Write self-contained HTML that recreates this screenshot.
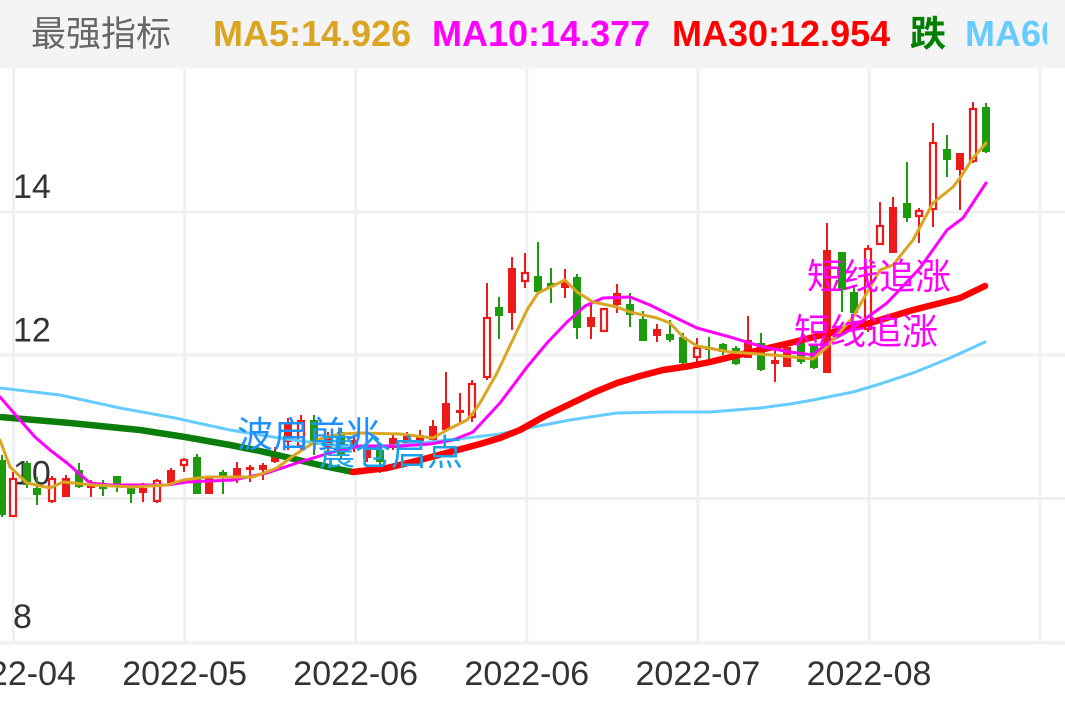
<!DOCTYPE html>
<html>
<head>
<meta charset="utf-8">
<style>
  html,body{margin:0;padding:0;background:#fff;}
  svg{display:block;}
</style>
</head>
<body>
<svg width="1065" height="708" viewBox="0 0 1065 708" xmlns="http://www.w3.org/2000/svg">
  <rect x="0" y="0" width="1065" height="708" fill="#ffffff"/>
  <!-- header -->
  <rect x="0" y="0" width="1065" height="68.5" fill="#f4f4f4"/>

  <!-- grid vertical -->
  <g stroke="#eff0f2" stroke-width="3">
    <line x1="13.5" y1="69" x2="13.5" y2="642"/>
    <line x1="184.6" y1="69" x2="184.6" y2="642"/>
    <line x1="355.7" y1="69" x2="355.7" y2="642"/>
    <line x1="526.8" y1="69" x2="526.8" y2="642"/>
    <line x1="697.9" y1="69" x2="697.9" y2="642"/>
    <line x1="869" y1="69" x2="869" y2="642"/>
    <line x1="1040" y1="69" x2="1040" y2="642"/>
    <line x1="0" y1="212" x2="1065" y2="212"/>
    <line x1="0" y1="355" x2="1065" y2="355"/>
    <line x1="0" y1="498.5" x2="1065" y2="498.5"/>
    <line x1="0" y1="643" x2="1065" y2="643"/>
  </g>

  <!-- y labels -->
  <g font-family="Liberation Sans, sans-serif" font-size="34" fill="#333">
    <text x="13" y="198">14</text>
    <text x="13" y="341.5">12</text>
    <text x="13" y="484.5">10</text>
    <text x="13" y="628">8</text>
  </g>

  <!-- candles -->
  <g id="candles">
    <!-- green wicks & bodies -->
    <g fill="#1e9b0c">
      <rect x="1" y="455" width="2" height="62"/><rect x="-2" y="460" width="8" height="55"/>
      <rect x="26" y="461" width="2" height="27"/><rect x="23" y="463" width="8" height="22"/>
      <rect x="36" y="477" width="2" height="28"/><rect x="33" y="488" width="8" height="7"/>
      <rect x="78" y="463" width="2" height="25"/><rect x="75" y="470" width="8" height="17"/>
      <rect x="102" y="480" width="2" height="16"/><rect x="99" y="486" width="8" height="3"/>
      <rect x="116" y="476" width="2" height="16"/><rect x="113" y="476" width="8" height="8"/>
      <rect x="130" y="485" width="2" height="18"/><rect x="127" y="488" width="8" height="6"/>
      <rect x="196" y="454" width="2" height="40"/><rect x="193" y="457" width="8" height="37"/>
      <rect x="222" y="470" width="2" height="24"/><rect x="219" y="472" width="8" height="5"/>
      <rect x="313" y="415" width="2" height="40"/><rect x="310" y="420" width="8" height="25"/>
      <rect x="340" y="428" width="2" height="32"/><rect x="337" y="432" width="8" height="23"/>
      <rect x="379" y="448" width="2" height="25"/><rect x="376" y="450" width="8" height="12"/>
      <rect x="498" y="297" width="2" height="42"/><rect x="495" y="307" width="8" height="9"/>
      <rect x="537" y="242" width="2" height="51"/><rect x="534" y="276" width="8" height="16"/>
      <rect x="550" y="268" width="2" height="35"/><rect x="547" y="283" width="8" height="4"/>
      <rect x="576" y="274" width="2" height="65"/><rect x="573" y="277" width="8" height="51"/>
      <rect x="629" y="293" width="2" height="34"/><rect x="626" y="304" width="8" height="11"/>
      <rect x="642" y="311" width="2" height="30"/><rect x="639" y="319" width="8" height="22"/>
      <rect x="669" y="320" width="2" height="22"/><rect x="666" y="334" width="8" height="6"/>
      <rect x="682" y="333" width="2" height="31"/><rect x="679" y="337" width="8" height="26"/>
      <rect x="708" y="337" width="2" height="23"/><rect x="705" y="347" width="8" height="3"/>
      <rect x="722" y="343" width="2" height="12"/><rect x="719" y="344" width="8" height="8"/>
      <rect x="735" y="346" width="2" height="19"/><rect x="732" y="348" width="8" height="16"/>
      <rect x="760" y="333" width="2" height="38"/><rect x="757" y="343" width="8" height="27"/>
      <rect x="800" y="340" width="2" height="24"/><rect x="797" y="343" width="8" height="19"/>
      <rect x="813" y="346" width="2" height="23"/><rect x="810" y="346" width="8" height="22"/>
      <rect x="841" y="252" width="2" height="60"/><rect x="838" y="252" width="8" height="38"/>
      <rect x="853" y="285" width="2" height="30"/><rect x="850" y="292" width="8" height="21"/>
      <rect x="906" y="162" width="2" height="60"/><rect x="903" y="203" width="8" height="15"/>
      <rect x="946" y="135" width="2" height="42"/><rect x="943" y="149" width="8" height="11"/>
      <rect x="985" y="103" width="2" height="50"/><rect x="982" y="107" width="8" height="45"/>
    </g>
    <!-- red solid -->
    <g fill="#ee1a1a">
      <rect x="65" y="475" width="2" height="22"/><rect x="62" y="478" width="8" height="19"/>
      <rect x="90" y="480" width="2" height="17"/><rect x="87" y="485" width="8" height="3"/>
      <rect x="142" y="483" width="2" height="19"/><rect x="139" y="488" width="8" height="5"/>
      <rect x="170" y="468" width="2" height="15"/><rect x="167" y="470" width="8" height="13"/>
      <rect x="208" y="476" width="2" height="18"/><rect x="205" y="477" width="8" height="17"/>
      <rect x="236" y="462" width="2" height="21"/><rect x="233" y="468" width="8" height="9"/>
      <rect x="249" y="465" width="2" height="17"/><rect x="246" y="467" width="8" height="3"/>
      <rect x="262" y="463" width="2" height="17"/><rect x="259" y="465" width="8" height="5"/>
      <rect x="274" y="447" width="2" height="16"/><rect x="271" y="453" width="8" height="9"/>
      <rect x="287" y="418" width="2" height="32"/><rect x="284" y="422" width="8" height="20"/>
      <rect x="327" y="432" width="2" height="20"/><rect x="324" y="438" width="8" height="10"/>
      <rect x="353" y="436" width="2" height="16"/><rect x="350" y="440" width="8" height="7"/>
      <rect x="366" y="445" width="2" height="17"/><rect x="363" y="448" width="8" height="10"/>
      <rect x="392" y="435" width="2" height="15"/><rect x="389" y="438" width="8" height="10"/>
      <rect x="406" y="432" width="2" height="15"/><rect x="403" y="435" width="8" height="8"/>
      <rect x="419" y="430" width="2" height="16"/><rect x="416" y="435" width="8" height="7"/>
      <rect x="432" y="420" width="2" height="22"/><rect x="429" y="426" width="8" height="14"/>
      <rect x="445" y="372" width="2" height="60"/><rect x="442" y="403" width="8" height="27"/>
      <rect x="459" y="393" width="2" height="29"/><rect x="456" y="410" width="8" height="3"/>
      <rect x="511" y="257" width="2" height="73"/><rect x="508" y="268" width="8" height="45"/>
      <rect x="564" y="269" width="2" height="29"/><rect x="561" y="282" width="8" height="6"/>
      <rect x="590" y="301" width="2" height="38"/><rect x="587" y="317" width="8" height="10"/>
      <rect x="616" y="284" width="2" height="29"/><rect x="613" y="293" width="8" height="12"/>
      <rect x="656" y="324" width="2" height="18"/><rect x="653" y="329" width="8" height="7"/>
      <rect x="747" y="316" width="2" height="42"/><rect x="744" y="340" width="8" height="18"/>
      <rect x="774" y="348" width="2" height="34"/><rect x="771" y="360" width="8" height="4"/>
      <rect x="786" y="347" width="2" height="20"/><rect x="783" y="347" width="8" height="20"/>
      <rect x="826" y="223" width="2" height="150"/><rect x="823" y="250" width="8" height="123"/>
      <rect x="892" y="197" width="2" height="56"/><rect x="889" y="207" width="8" height="46"/>
      <rect x="959" y="153" width="2" height="57"/><rect x="956" y="153" width="8" height="17"/>
    </g>
    <!-- red hollow -->
    <g fill="#ee1a1a">
      <rect x="12" y="472" width="2" height="6"/>
      <rect x="51" y="476" width="2" height="27"/>
      <rect x="156" y="479" width="2" height="24"/>
      <rect x="183" y="458" width="2" height="14"/>
      <rect x="300" y="415" width="2" height="37"/>
      <rect x="471" y="380" width="2" height="42"/>
      <rect x="486" y="283" width="2" height="97"/>
      <rect x="524" y="253" width="2" height="35"/>
      <rect x="696" y="338" width="2" height="30"/>
      <rect x="867" y="245" width="2" height="87"/>
      <rect x="879" y="202" width="2" height="43"/>
      <rect x="918" y="208" width="2" height="35"/>
      <rect x="932" y="123" width="2" height="104"/>
      <rect x="972" y="102" width="2" height="61"/>
    </g>
    <g fill="#ffffff" stroke="#ee1a1a" stroke-width="2.2">
      <rect x="10" y="479" width="6" height="37"/>
      <rect x="49" y="479" width="6" height="22"/>
      <rect x="154" y="481" width="6" height="20"/>
      <rect x="181" y="460" width="6" height="5"/>
      <rect x="298" y="421" width="6" height="25"/>
      <rect x="469" y="384" width="6" height="33"/>
      <rect x="484" y="318" width="6" height="59"/>
      <rect x="522" y="273" width="6" height="8"/>
      <rect x="601" y="309" width="6" height="22"/>
      <rect x="694" y="348" width="6" height="9"/>
      <rect x="865" y="249" width="6" height="80"/>
      <rect x="877" y="226" width="6" height="18"/>
      <rect x="916" y="211" width="6" height="5"/>
      <rect x="930" y="143" width="6" height="66"/>
      <rect x="970" y="109" width="6" height="52"/>
    </g>
  </g>

  <!-- MA60 -->
  <polyline fill="none" stroke="#66ccff" stroke-width="3" stroke-linejoin="round" stroke-linecap="round"
    points="0,388 60,395 120,408 175,418 230,430 273,437 300,441 340,446 370,447 400,445 450,440 500,434 523,429 570,420 617,413 663,412 710,412 760,408 790,404 813,400 853,392 880,384 913,373 950,358 985,342"/>

  <!-- MA30 -->
  <polyline fill="none" stroke="#0b7d0b" stroke-width="6.5" stroke-linejoin="round"
    points="0,417 70,423 140,430 185,437 230,445 260,451 290,458 315,464 333,468 353,472"/>
  <polyline fill="none" stroke="#ff0000" stroke-width="6.5" stroke-linejoin="round" stroke-linecap="round"
    points="353,472 387,468 420,460 450,452 480,444 500,438 520,430 545,416 570,404 595,392 617,383 640,376 663,370 690,366 710,362 747,353 790,343 830,333 870,323 913,310 960,298 985,286"/>

  <!-- MA10 -->
  <polyline fill="none" stroke="#ff00ff" stroke-width="3" stroke-linejoin="round" stroke-linecap="round"
    points="0,397 20,420 35,437 50,450 67,463 90,483 110,485 133,485 167,485 187,482 210,481 233,480 267,473 300,462 333,452 360,446 400,446 430,444 453,440 473,432 500,403 527,367 547,343 567,322 585,306 603,298 630,297 650,305 670,315 697,328 730,337 763,347 790,352 813,355 827,343 850,330 887,303 920,268 947,230 963,218 986,183"/>

  <!-- MA5 -->
  <polyline fill="none" stroke="#daa520" stroke-width="3" stroke-linejoin="round" stroke-linecap="round"
    points="0,440 10,467 27,483 50,488 63,482 93,485 133,487 167,485 183,480 207,477 233,477 253,477 277,468 293,456 307,447 320,439 340,434 360,433 400,434 433,438 447,430 467,420 473,413 480,403 497,373 527,310 538,293 565,280 577,292 593,302 617,307 630,312 657,318 670,323 683,337 697,346 730,352 773,355 813,359 827,347 853,317 880,270 893,265 913,240 933,203 953,187 960,178 973,158 986,143"/>

  <!-- annotations -->
  <g font-family="Liberation Sans, Noto Sans CJK SC, sans-serif" font-size="36">
    <text x="237" y="447" fill="#1e8fff">波启前兆</text>
    <text x="319" y="465" fill="#1aa2e8">震仓启点</text>
    <text x="807" y="289" fill="#ff00ff">短线追涨</text>
    <text x="794" y="344" fill="#ff00ff">短线追涨</text>
  </g>

  <!-- x labels -->
  <g font-family="Liberation Sans, sans-serif" font-size="34" fill="#333" text-anchor="middle">
    <text x="13.5" y="685">2022-04</text>
    <text x="184.6" y="685">2022-05</text>
    <text x="355.7" y="685">2022-06</text>
    <text x="526.8" y="685">2022-06</text>
    <text x="697.9" y="685">2022-07</text>
    <text x="869" y="685">2022-08</text>
  </g>

  <!-- header text -->
  <text x="31" y="46" font-family="Liberation Sans, Noto Sans CJK SC, sans-serif" font-size="35" fill="#666666">最强指标</text>
  <g font-family="Liberation Sans, Noto Sans CJK SC, sans-serif" font-size="36" font-weight="bold">
    <text x="213" y="46" fill="#daa520">MA5:14.926</text>
    <text x="432" y="46" fill="#ff00ff">MA10:14.377</text>
    <text x="672" y="46" fill="#ff0000">MA30:12.954</text>
    <text x="910" y="46" fill="#008000">跌</text>
    <text x="965" y="46" fill="#66ccff">MA60:11.824</text>
  </g>
  <rect x="1047" y="0" width="18" height="68.5" fill="#f4f4f4"/>
</svg>
</body>
</html>
